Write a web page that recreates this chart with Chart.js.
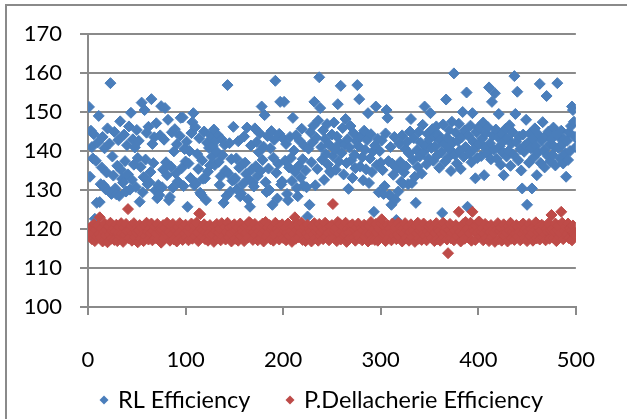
<!DOCTYPE html>
<html lang="en">
<head>
<meta charset="UTF-8">
<title>Efficiency</title>
<script src="https://cdn.jsdelivr.net/npm/chart.js@4.4.1/dist/chart.umd.min.js"></script>
<style>
  html, body { margin: 0; padding: 0; background: #fff; }
</style>
</head>
<body>
<canvas id="myChart" width="627" height="419"></canvas>
<script>
// series names
const seriesNames = ['RL Efficiency', 'P.Dellacherie Efficiency'];

// axis ticks
const xTicks = [0, 100, 200, 300, 400, 500];
const yTicks = [100, 110, 120, 130, 140, 150, 160, 170];

// RL efficiency, runs 1..500
const rlEfficiency = [
  151.3,133.4,145.2,141.0,138.1,144.3,122.6,137.5,126.7,142.2,149.0,126.9,131.5,135.8,143.6,131.2,140.7,130.2,134.5,145.8,129.8,141.9,157.4,129.0,138.6,
  133.7,144.9,130.4,128.9,136.2,142.8,128.5,147.6,135.1,132.8,131.9,144.2,137.4,129.6,141.5,134.0,146.3,130.1,149.8,132.6,143.0,136.5,140.9,130.8,145.4,
  138.2,142.6,127.0,135.9,152.4,129.4,133.3,150.5,137.8,144.7,131.5,146.2,132.0,134.6,153.3,141.8,136.9,143.5,129.9,147.1,127.9,131.3,128.7,144.0,151.5,
  130.7,135.2,142.9,151.0,137.1,133.8,148.0,127.4,128.2,136.0,144.8,130.6,139.9,145.6,134.3,141.7,132.2,131.9,143.9,148.5,135.6,148.6,131.0,140.5,137.3,
  142.4,125.7,136.8,140.0,133.1,144.6,147.4,149.7,131.2,146.1,131.7,139.2,135.4,143.3,129.3,128.8,137.6,132.9,145.0,133.0,127.4,142.1,134.7,140.8,136.3,
  143.9,138.5,141.3,145.5,136.4,142.7,139.8,144.1,137.2,131.3,133.5,143.0,138.9,126.7,141.6,135.0,128.5,156.9,134.2,142.0,129.6,137.9,132.4,146.2,132.6,
  133.0,138.1,130.2,142.5,135.7,128.4,129.1,136.6,131.6,143.7,137.0,134.1,146.0,127.6,132.8,125.7,141.4,135.3,131.9,130.9,145.8,136.1,142.3,133.6,139.7,
  144.5,134.9,151.4,137.7,141.1,149.2,132.0,129.5,143.8,135.5,130.0,140.7,145.1,126.2,138.3,142.9,158.0,134.4,127.8,136.7,144.4,152.6,131.4,132.2,143.2,
  152.6,137.5,141.8,129.0,127.4,135.8,143.6,138.2,132.3,148.5,140.1,134.7,144.0,130.5,128.4,136.2,142.6,133.2,145.7,137.9,131.1,141.2,135.0,130.7,123.2,
  140.6,126.2,144.8,137.1,142.2,146.5,152.6,131.2,143.4,135.4,147.8,158.9,151.0,141.0,137.8,145.3,132.6,143.1,139.2,146.9,136.5,141.7,134.8,134.4,144.2,
  138.7,147.3,140.4,135.2,143.7,152.0,137.3,142.0,156.7,139.5,145.9,134.0,141.6,148.2,136.9,143.0,130.3,140.9,146.4,137.6,133.1,144.6,139.0,135.6,142.5,
  156.9,141.3,153.3,136.0,143.9,138.4,132.5,145.2,140.3,135.3,142.8,149.7,131.8,138.1,144.3,134.6,139.9,124.4,141.4,151.4,136.4,143.1,129.4,140.0,137.0,
  142.7,135.1,129.0,131.0,144.5,150.5,148.5,137.4,128.7,141.0,126.2,136.7,133.9,143.6,127.5,122.3,135.5,129.6,141.9,137.2,132.1,144.0,131.6,134.5,140.6,
  136.0,142.4,131.5,139.4,145.0,148.2,131.8,137.7,143.3,133.4,126.7,140.2,135.9,144.9,138.6,142.1,134.2,146.7,139.8,151.4,141.5,136.6,144.4,138.0,143.0,
  149.7,140.8,145.6,137.5,143.8,141.2,146.3,138.9,144.1,135.7,142.9,139.6,124.1,146.8,141.7,137.3,153.2,143.4,138.3,145.4,140.4,134.9,147.5,142.2,159.9,
  139.1,144.7,136.8,142.6,147.0,140.1,135.4,143.5,150.0,138.5,145.3,141.0,155.0,125.7,143.9,139.3,146.5,137.1,149.7,142.3,140.6,133.0,144.8,138.2,146.0,
  141.8,145.9,138.7,143.2,147.3,133.8,140.9,144.6,139.4,146.1,156.3,142.0,137.9,152.6,144.0,140.3,154.8,145.5,138.0,143.6,149.5,141.2,136.5,144.3,139.7,
  133.8,142.8,145.7,138.6,143.3,140.0,146.6,136.2,141.9,144.9,139.1,159.2,149.5,142.4,155.2,137.6,143.7,140.5,135.0,130.4,144.2,139.8,141.4,148.0,126.2,
  142.1,137.0,144.5,140.7,130.4,143.0,138.4,145.8,141.3,133.8,139.6,144.1,157.2,136.9,142.7,147.4,140.2,135.8,143.9,154.1,138.8,145.0,141.6,137.4,143.1,
  139.0,146.0,141.1,136.3,144.7,157.4,140.8,143.5,138.1,145.2,141.7,136.8,143.0,139.5,133.4,142.6,137.7,144.8,140.0,146.4,151.4,150.5,147.5,143.6,141.0
];

// P.Dellacherie efficiency, runs 1..500
const pdEfficiency = [
  118.4,119.6,120.5,117.4,118.9,121.2,116.9,119.8,118.0,120.9,118.7,123.0,117.8,120.1,116.8,119.2,121.4,118.3,119.9,116.6,120.7,118.6,121.6,117.5,119.5,
  120.2,117.2,119.3,121.1,116.9,118.9,120.6,118.1,121.5,118.8,116.7,120.3,118.4,121.3,119.4,125.1,117.6,119.7,120.8,117.0,118.9,121.5,117.9,119.9,119.1,
  116.6,119.6,121.0,117.6,120.4,118.6,116.9,120.9,118.2,121.6,119.3,117.3,120.1,119.0,121.4,117.1,119.5,120.6,117.7,118.8,121.3,117.4,119.9,119.4,116.5,
  119.8,121.0,117.6,120.3,118.9,121.6,118.1,119.2,117.0,120.8,118.6,121.3,117.3,120.0,119.5,116.8,120.5,118.9,121.5,117.9,119.7,117.2,120.7,118.8,121.1,
  117.8,119.6,117.1,120.4,118.7,121.4,117.5,119.4,120.9,118.2,121.6,119.1,116.9,124.0,123.8,120.0,118.0,119.7,121.2,117.4,119.3,120.6,117.0,118.9,121.0,
  118.3,120.2,118.6,116.7,120.7,119.5,121.3,117.7,119.1,120.1,117.1,121.5,118.1,119.6,120.5,117.3,119.2,121.6,117.9,120.3,118.8,116.8,120.8,119.4,121.2,
  117.5,119.7,120.4,117.0,118.6,121.4,118.2,120.0,119.3,116.9,120.6,118.9,121.1,117.8,121.8,121.6,119.5,120.2,117.2,119.1,121.3,118.4,120.1,117.1,119.4,
  120.7,117.6,118.8,121.4,116.8,119.6,121.8,118.1,120.3,119.0,121.0,117.4,119.8,120.5,117.0,118.9,121.6,117.9,120.0,119.3,117.3,120.9,118.6,121.2,117.7,
  119.5,120.4,117.1,119.0,121.4,118.2,120.1,119.4,116.7,120.7,118.7,123.0,117.5,119.8,121.2,117.9,120.3,119.1,121.6,117.2,119.6,120.6,116.9,118.9,121.1,
  118.1,120.0,119.3,116.8,120.8,118.6,121.5,117.6,119.5,120.2,117.0,121.3,118.3,119.2,120.5,117.4,119.8,121.6,117.9,120.1,119.0,117.1,120.7,119.4,121.0,
  126.4,117.7,119.6,120.3,116.9,121.8,118.8,121.3,117.3,119.4,120.6,118.2,118.7,121.6,116.7,120.0,119.1,117.5,120.9,119.5,121.2,117.9,119.8,117.0,120.4,
  118.6,121.4,117.6,119.3,120.2,117.1,119.7,121.1,118.0,120.5,119.0,116.8,120.8,118.7,121.8,117.4,119.4,120.0,117.2,121.3,119.1,117.0,120.3,119.8,121.5,
  122.5,118.2,118.9,120.7,116.9,119.4,121.0,117.7,120.1,119.0,117.1,121.4,118.3,119.7,120.4,117.4,118.6,121.6,117.9,120.6,119.3,116.8,120.2,118.8,121.5,
  117.6,119.8,120.5,117.0,119.2,121.2,118.0,120.0,119.5,116.7,120.8,118.9,121.6,117.5,119.6,120.3,117.2,118.7,121.4,118.2,120.1,117.1,119.3,120.7,118.6,
  121.1,117.7,119.7,120.4,116.9,119.0,121.5,117.4,120.0,119.5,117.0,120.9,118.7,121.6,117.9,119.3,120.2,117.3,113.8,119.8,121.3,117.6,118.9,120.6,117.1,
  119.6,121.0,118.2,120.3,124.4,119.2,116.8,120.7,118.6,121.4,117.5,121.8,119.8,120.1,117.7,118.9,121.6,117.0,124.4,120.5,119.5,117.2,120.8,119.1,121.8,
  121.9,118.1,119.3,120.2,117.1,118.8,121.3,117.6,119.7,120.6,116.9,119.2,121.0,117.9,120.0,119.0,116.7,120.7,119.8,121.5,117.4,119.5,120.4,117.0,118.6,
  121.2,118.3,120.1,119.1,116.8,120.8,119.6,121.6,117.5,119.4,120.3,117.2,118.9,121.0,118.1,120.5,119.3,117.1,120.9,118.8,121.4,117.7,119.7,120.2,116.9,
  119.5,121.3,118.2,120.0,119.0,117.0,120.6,119.8,121.7,117.6,119.2,120.4,117.3,119.6,121.1,117.9,120.7,118.6,117.1,120.2,119.4,121.5,117.5,119.7,123.6,
  120.0,117.7,119.3,121.4,116.9,119.8,120.8,118.0,118.9,124.4,121.6,117.4,119.5,120.5,118.2,118.8,121.4,117.6,120.3,119.6,117.1,120.9,119.1,118.6,118.2
];

const colors = ['#4a7ebb', '#be4b48'];
const FONT = 'Lato, "Open Sans", sans-serif';

// run number on x, value on y
const toPoints = function(arr) {
  return arr.map(function(v, i) { return { x: i + 1, y: v }; });
};

// grey outer frame + bottom legend with small diamonds
const framePlugin = {
  id: 'frame',
  beforeDraw(chart) {
    const c = chart.ctx;
    c.save();
    c.fillStyle = '#fff';
    c.fillRect(0, 0, chart.width, chart.height);
    c.strokeStyle = '#8a8a8a';
    c.lineWidth = 2;
    c.strokeRect(6, 5, chart.width + 20, chart.height + 20);
    c.restore();
  },
  afterDraw(chart) {
    const c = chart.ctx;
    c.save();
    c.font = '23.5px ' + FONT;
    c.textBaseline = 'middle';
    const r = 4.5, cy = 400;
    const markerX = [104, 290];
    seriesNames.forEach(function(s, i) {
      const mx = markerX[i];
      c.fillStyle = colors[i];
      c.beginPath();
      c.moveTo(mx, cy - r); c.lineTo(mx + r, cy); c.lineTo(mx, cy + r); c.lineTo(mx - r, cy);
      c.closePath();
      c.fill();
      c.fillStyle = '#000';
      c.fillText(s, mx + 14, cy);
    });
    c.restore();
  }
};

const ctx = document.getElementById('myChart').getContext('2d');
const myChart = new Chart(ctx, {
  type: 'scatter',
  data: {
    datasets: [{
      label: seriesNames[0],
      data: toPoints(rlEfficiency),
      backgroundColor: colors[0],
      borderColor: colors[0],
      borderWidth: 1,
      pointStyle: 'rectRot',
      pointRadius: 5.5,
      order: 1
    }, {
      label: seriesNames[1],
      data: toPoints(pdEfficiency),
      backgroundColor: colors[1],
      borderColor: colors[1],
      borderWidth: 1,
      pointStyle: 'rectRot',
      pointRadius: 5.5,
      order: 0
    }]
  },
  options: {
    responsive: false,
    animation: false,
    layout: { padding: { left: 0, right: 33, top: 34, bottom: 0 } },
    plugins: { legend: { display: false }, tooltip: { enabled: false } },
    scales: {
      x: {
        type: 'linear',
        min: 0, max: 500,
        afterBuildTicks: function(scale) { scale.ticks = xTicks.map(function(v) { return { value: v }; }); },
        afterFit: function(scale) { scale.height = 112; },
        grid: { drawOnChartArea: false, drawTicks: true, tickLength: 8, color: '#8a8a8a', lineWidth: 2 },
        border: { color: '#8a8a8a', width: 2 },
        ticks: { color: '#000', font: { family: FONT, size: 22 }, padding: 32, maxRotation: 0 }
      },
      y: {
        min: 100, max: 170,
        afterBuildTicks: function(scale) { scale.ticks = yTicks.map(function(v) { return { value: v }; }); },
        afterFit: function(scale) { scale.width = 88; },
        grid: { color: '#8a8a8a', lineWidth: 2, tickLength: 8 },
        border: { color: '#8a8a8a', width: 2 },
        ticks: { color: '#000', font: { family: FONT, size: 22 }, padding: 18 }
      }
    }
  },
  plugins: [framePlugin]
});
</script>
</body>
</html>
